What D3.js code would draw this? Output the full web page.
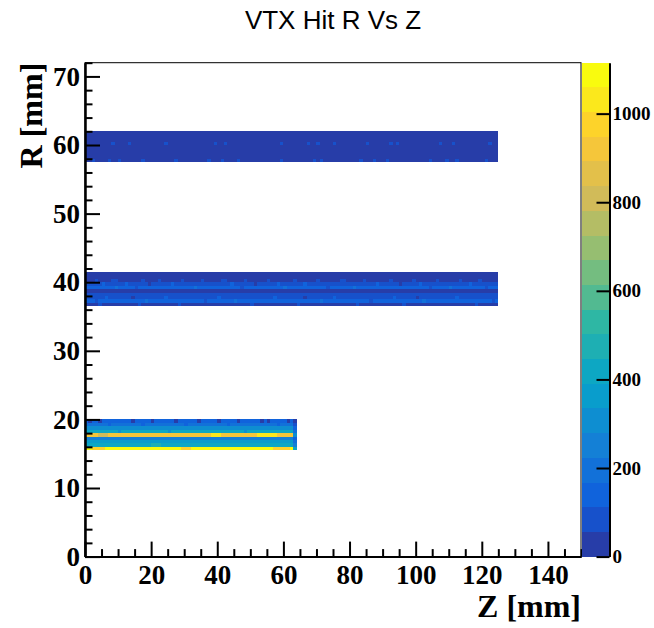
<!DOCTYPE html>
<html>
<head>
<meta charset="utf-8">
<script src="https://cdn.jsdelivr.net/npm/d3@7"></script>
<style>
  body { margin: 0; background: #fff; }
</style>
</head>
<body>
<svg id="canvas"></svg>
<script>
const svg = d3.select("#canvas");

svg
  .attr('width', 654)
  .attr('height', 628)
  .style("background-color", "#fff")

// histogram binning
const zBin = 1, rBin = 0.5;
const zMax = 150, rMax = 72, cMax = 1115, nLevels = 20;

// tick labels
const zLabels = [0, 20, 40, 60, 80, 100, 120, 140];
const rLabels = [0, 10, 20, 30, 40, 50, 60, 70];
const cLabels = [0, 200, 400, 600, 800, 1000];

// layer 1: R rows from 15.5 mm upward, Z bins 0..63
const l1Rows = [1080, 440, 360, 240, 920, 400, 300, 220, 120];
const l1Edge = [400, 230, 200, 130, 300, 200, 120, 80, 50]; // last bin z 63-64
// [z0, z1, r row, value]
const l1Spots = [
  [1, 2, 19.5, 40], [4, 5, 19.5, 40], [14, 15, 19.5, 40], [20, 21, 19.5, 40],
  [27, 28, 19.5, 40], [34, 35, 19.5, 40], [40, 41, 19.5, 40], [46, 47, 19.5, 40],
  [53, 54, 19.5, 40], [55, 56, 19.5, 40], [61, 62, 19.5, 40],
  [7, 8, 19, 120], [17, 18, 19, 120], [30, 31, 19, 120], [43, 44, 19, 120], [58, 59, 19, 120],
  [38, 41, 17.5, 1010], [52, 58, 17.5, 1010], [4, 7, 17.5, 800],
  [2, 6, 15.5, 960], [29, 32, 15.5, 960], [57, 62, 15.5, 960],
  [20, 23, 16, 480], [10, 11, 18, 300], [25, 26, 18, 300], [48, 49, 18, 300]
];

// layer 2: R rows from 36.5 mm upward, Z bins 0..124
const l2Rows = [45, 140, 90, 60, 50, 140, 85, 55, 45, 35];
const l2Spots = [
  [3, 4, 40, 85], [8, 10, 40, 85], [17, 18, 40, 85], [22, 23, 40, 85], [29, 30, 40, 85],
  [35, 36, 40, 85], [41, 43, 40, 85], [48, 49, 40, 85], [55, 56, 40, 85], [63, 64, 40, 85],
  [70, 71, 40, 85], [77, 79, 40, 85], [84, 85, 40, 85], [92, 93, 40, 85], [99, 100, 40, 85],
  [106, 107, 40, 85], [113, 114, 40, 85], [119, 120, 40, 85],
  [5, 6, 39.5, 130], [12, 13, 39.5, 130], [26, 27, 39.5, 130], [44, 45, 39.5, 130],
  [58, 59, 39.5, 130], [66, 67, 39.5, 130], [88, 89, 39.5, 130], [101, 102, 39.5, 130],
  [116, 117, 39.5, 130], [19, 20, 39.5, 45], [51, 52, 39.5, 45], [95, 96, 39.5, 45],
  [9, 10, 39, 180], [33, 34, 39, 180], [60, 61, 39, 180], [81, 82, 39, 180], [110, 111, 39, 180],
  [15, 16, 39, 95], [47, 48, 39, 95], [73, 74, 39, 95], [104, 105, 39, 95], [121, 122, 39, 95],
  [2, 3, 38, 85], [11, 12, 38, 85], [20, 21, 38, 85], [31, 32, 38, 85], [38, 39, 38, 85],
  [52, 53, 38, 85], [61, 62, 38, 85], [69, 70, 38, 85], [80, 81, 38, 85], [90, 91, 38, 85],
  [97, 98, 38, 85], [108, 109, 38, 85], [117, 118, 38, 85],
  [6, 7, 37.5, 130], [24, 25, 37.5, 130], [40, 41, 37.5, 130], [57, 58, 37.5, 130],
  [75, 76, 37.5, 130], [93, 94, 37.5, 130], [112, 113, 37.5, 130],
  [14, 15, 37.5, 45], [66, 67, 37.5, 45], [100, 101, 37.5, 45],
  [18, 19, 37, 180], [45, 46, 37, 180], [71, 72, 37, 180], [102, 103, 37, 180],
  [3, 4, 37, 95], [36, 37, 37, 95], [86, 87, 37, 95], [123, 124, 37, 95],
  [4, 5, 36.5, 85], [16, 17, 36.5, 85], [28, 29, 36.5, 85], [50, 51, 36.5, 85],
  [64, 65, 36.5, 85], [82, 83, 36.5, 85], [96, 97, 36.5, 85], [118, 119, 36.5, 85]
];

// layer 3: R rows from 57.5 mm upward, Z bins 0..124
const l3Rows = [45, 35, 30, 30, 30, 35, 30, 30, 30];
const l3Spots = [
  [8, 9, 60, 75], [13, 14, 60, 75], [24, 25, 60, 75], [39, 40, 60, 75], [42, 43, 60, 75],
  [59, 60, 60, 75], [67, 68, 60, 75], [70, 71, 60, 75], [75, 76, 60, 75], [85, 86, 60, 75],
  [92, 93, 60, 75], [94, 95, 60, 75], [107, 108, 60, 75], [111, 112, 60, 75], [122, 123, 60, 75],
  [2, 3, 57.5, 75], [7, 8, 57.5, 75], [10, 11, 57.5, 75], [17, 18, 57.5, 75], [27, 28, 57.5, 75],
  [37, 38, 57.5, 75], [41, 42, 57.5, 75], [46, 47, 57.5, 75], [59, 60, 57.5, 75], [69, 70, 57.5, 75],
  [71, 72, 57.5, 75], [83, 84, 57.5, 75], [87, 88, 57.5, 75], [91, 92, 57.5, 75], [104, 105, 57.5, 75],
  [109, 110, 57.5, 75], [112, 113, 57.5, 75], [121, 122, 57.5, 75]
];

// ROOT kBird palette
const birdStops = [0.0, 0.125, 0.25, 0.375, 0.5, 0.625, 0.75, 0.875, 1.0];
const birdR = [0.2082, 0.0592, 0.0780, 0.0232, 0.1802, 0.5301, 0.8186, 0.9956, 0.9764];
const birdG = [0.1664, 0.3599, 0.5041, 0.6419, 0.7178, 0.7492, 0.7328, 0.7862, 0.9832];
const birdB = [0.5293, 0.8684, 0.8385, 0.7914, 0.6425, 0.4662, 0.3499, 0.1968, 0.0539];

const bird = d3.scaleLinear()
  .domain(birdStops)
  .range(birdStops.map((s, i) => d3.rgb(birdR[i] * 255, birdG[i] * 255, birdB[i] * 255)))
  .interpolate(d3.interpolateRgb);

function levelColor(level) {
  const t = Math.floor((level + 0.99) * 255 / nLevels) / 254;
  return bird(Math.min(1, t));
}
function valueColor(v) {
  const level = Math.min(nLevels - 1, Math.floor(v / (cMax / nLevels)));
  return levelColor(level);
}

const x = d3.scaleLinear().domain([0, zMax]).range([85, 581]);
const y = d3.scaleLinear().domain([0, rMax]).range([556.6, 62.7]);
const c = d3.scaleLinear().domain([0, cMax]).range([556.6, 62.7]);

// build the cells
const layers = [
  { z0: 0, z1: 64, r0: 15.5, rows: l1Rows, edge: l1Edge, spots: l1Spots },
  { z0: 0, z1: 125, r0: 36.5, rows: l2Rows, edge: null, spots: l2Spots },
  { z0: 0, z1: 125, r0: 57.5, rows: l3Rows, edge: null, spots: l3Spots }
];

const cells = [];
layers.forEach(layer => {
  const grid = new Map();
  layer.rows.forEach((v, i) => {
    const r = layer.r0 + i * rBin;
    for (let z = layer.z0; z < layer.z1; z += zBin) {
      grid.set(z + '|' + r, { z, r, v });
    }
    if (layer.edge) grid.get((layer.z1 - zBin) + '|' + r).v = layer.edge[i];
  });
  layer.spots.forEach(([za, zb, r, v]) => {
    for (let z = za; z < zb; z += zBin) {
      const cell = grid.get(z + '|' + r);
      if (cell) cell.v = v;
    }
  });
  grid.forEach(d => cells.push(d));
});

svg.append('g')
  .selectAll('rect')
  .data(cells.filter(d => d.v > 0))
  .join('rect')
  .attr('x', d => x(d.z))
  .attr('y', d => y(d.r + rBin))
  .attr('width', d => x(d.z + zBin) - x(d.z))
  .attr('height', d => y(d.r) - y(d.r + rBin))
  .attr('fill', d => valueColor(d.v))
  .attr('shape-rendering', 'crispEdges');

// frame
svg.append('rect')
  .attr('x', x(0))
  .attr('y', y(rMax))
  .attr('width', x(zMax) - x(0))
  .attr('height', y(0) - y(rMax))
  .attr('fill', 'none')
  .attr('stroke', 'black')
  .attr('stroke-width', 1);

const serif = '"Liberation Serif", "Times New Roman", serif';

function styleAxis(g, size) {
  g.selectAll('text')
    .attr('font-family', serif)
    .attr('font-weight', 'bold')
    .attr('font-size', size)
    .attr('fill', 'black');
  g.selectAll('line').attr('stroke', 'black').attr('stroke-width', 2);
  g.select('.domain').attr('stroke', 'black').attr('stroke-width', 2);
}

// x axis
svg.append('g')
  .attr('transform', `translate(0,${y(0)})`)
  .call(d3.axisBottom(x).tickValues(d3.range(0, zMax + 1, 5).filter(v => v % 20 !== 0))
    .tickSize(-7.5).tickSizeOuter(0).tickFormat(''))
  .call(g => styleAxis(g, 27));
svg.append('g')
  .attr('transform', `translate(0,${y(0)})`)
  .call(d3.axisBottom(x).tickValues(zLabels).tickSize(-15).tickSizeOuter(0).tickPadding(8))
  .call(g => styleAxis(g, 27));

// y axis
svg.append('g')
  .attr('transform', `translate(${x(0)},0)`)
  .call(d3.axisLeft(y).tickValues(d3.range(0, rMax + 1, 2).filter(v => v % 10 !== 0))
    .tickSize(-7.5).tickSizeOuter(0).tickFormat(''))
  .call(g => styleAxis(g, 27));
svg.append('g')
  .attr('transform', `translate(${x(0)},0)`)
  .call(d3.axisLeft(y).tickValues(rLabels).tickSize(-15).tickSizeOuter(0).tickPadding(5))
  .call(g => styleAxis(g, 27));

// palette
const palX0 = 582, palX1 = 609.5;
svg.append('g')
  .selectAll('rect')
  .data(d3.range(nLevels))
  .join('rect')
  .attr('x', palX0)
  .attr('y', d => c((d + 1) * cMax / nLevels))
  .attr('width', palX1 - palX0)
  .attr('height', d => c(d * cMax / nLevels) - c((d + 1) * cMax / nLevels))
  .attr('fill', d => levelColor(d))
  .attr('shape-rendering', 'crispEdges');

svg.append('g')
  .attr('transform', `translate(${palX1},0)`)
  .call(d3.axisRight(c).tickValues(cLabels).tickFormat(d3.format('d'))
    .tickSize(-13).tickSizeOuter(0).tickPadding(3))
  .call(g => styleAxis(g, 19));

// titles
svg.append('text')
  .attr('x', 333)
  .attr('y', 29)
  .attr('text-anchor', 'middle')
  .attr('font-family', '"Liberation Sans", Arial, sans-serif')
  .attr('font-size', 26)
  .text('VTX Hit R Vs Z');

svg.append('text')
  .attr('x', x(zMax))
  .attr('y', 617)
  .attr('text-anchor', 'end')
  .attr('font-family', serif)
  .attr('font-weight', 'bold')
  .attr('font-size', 32)
  .text('Z [mm]');

svg.append('text')
  .attr('transform', `translate(42,${y(rMax)}) rotate(-90)`)
  .attr('text-anchor', 'end')
  .attr('font-family', serif)
  .attr('font-weight', 'bold')
  .attr('font-size', 32)
  .text('R [mm]');
</script>
</body>
</html>
